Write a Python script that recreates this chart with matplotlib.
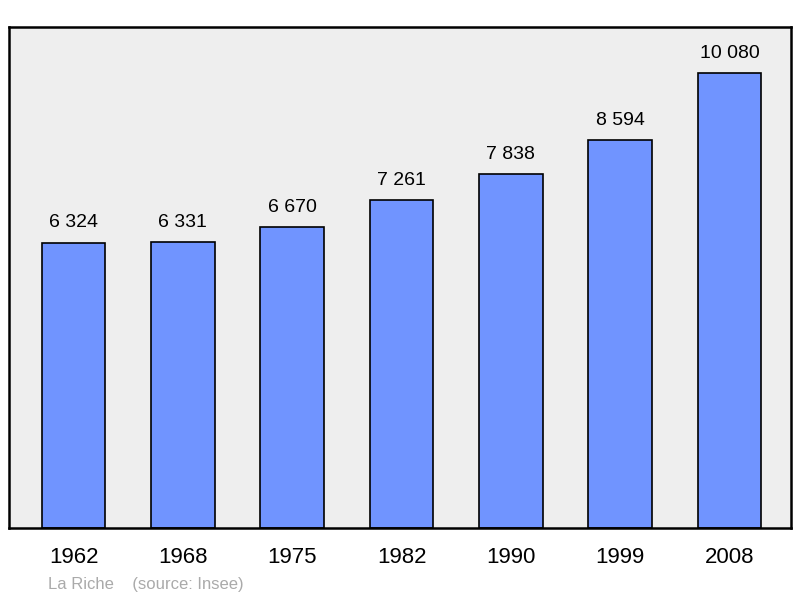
import matplotlib
matplotlib.use("Agg")
import matplotlib.pyplot as plt

plt.rcParams['font.family'] = ['Liberation Sans', 'DejaVu Sans']

years = ['1962', '1968', '1975', '1982', '1990', '1999', '2008']
population = [6324, 6331, 6670, 7261, 7838, 8594, 10080]
labels = ['6 324', '6 331', '6 670', '7 261', '7 838', '8 594', '10 080']

fig = plt.figure(figsize=(8, 5.98), dpi=100)
ax = fig.add_axes([0.01125, 0.117, 0.9775, 0.838])
ax.set_facecolor('#eeeeee')

x = range(len(years))
ax.bar(x, population, width=0.58, color='#7094ff', edgecolor='black', linewidth=1.2)
for i, v in enumerate(population):
    ax.annotate(labels[i], (i, v), xytext=(0, 8), textcoords='offset points',
                ha='center', va='bottom', fontsize=14)

ax.set_xlim(-0.59, 6.5625)
ax.set_ylim(0, 11099)
ax.set_yticks([])
ax.set_xticks(list(x))
ax.set_xticklabels(years, fontsize=16)
ax.tick_params(axis='x', length=0, pad=14)
for s in ax.spines.values():
    s.set_linewidth(1.8)

fig.text(48 / 800, 1 - 585 / 598, 'La Riche    (source: Insee)', color='#aaaaaa',
         fontsize=12, va='center')

fig.savefig('out.png')
